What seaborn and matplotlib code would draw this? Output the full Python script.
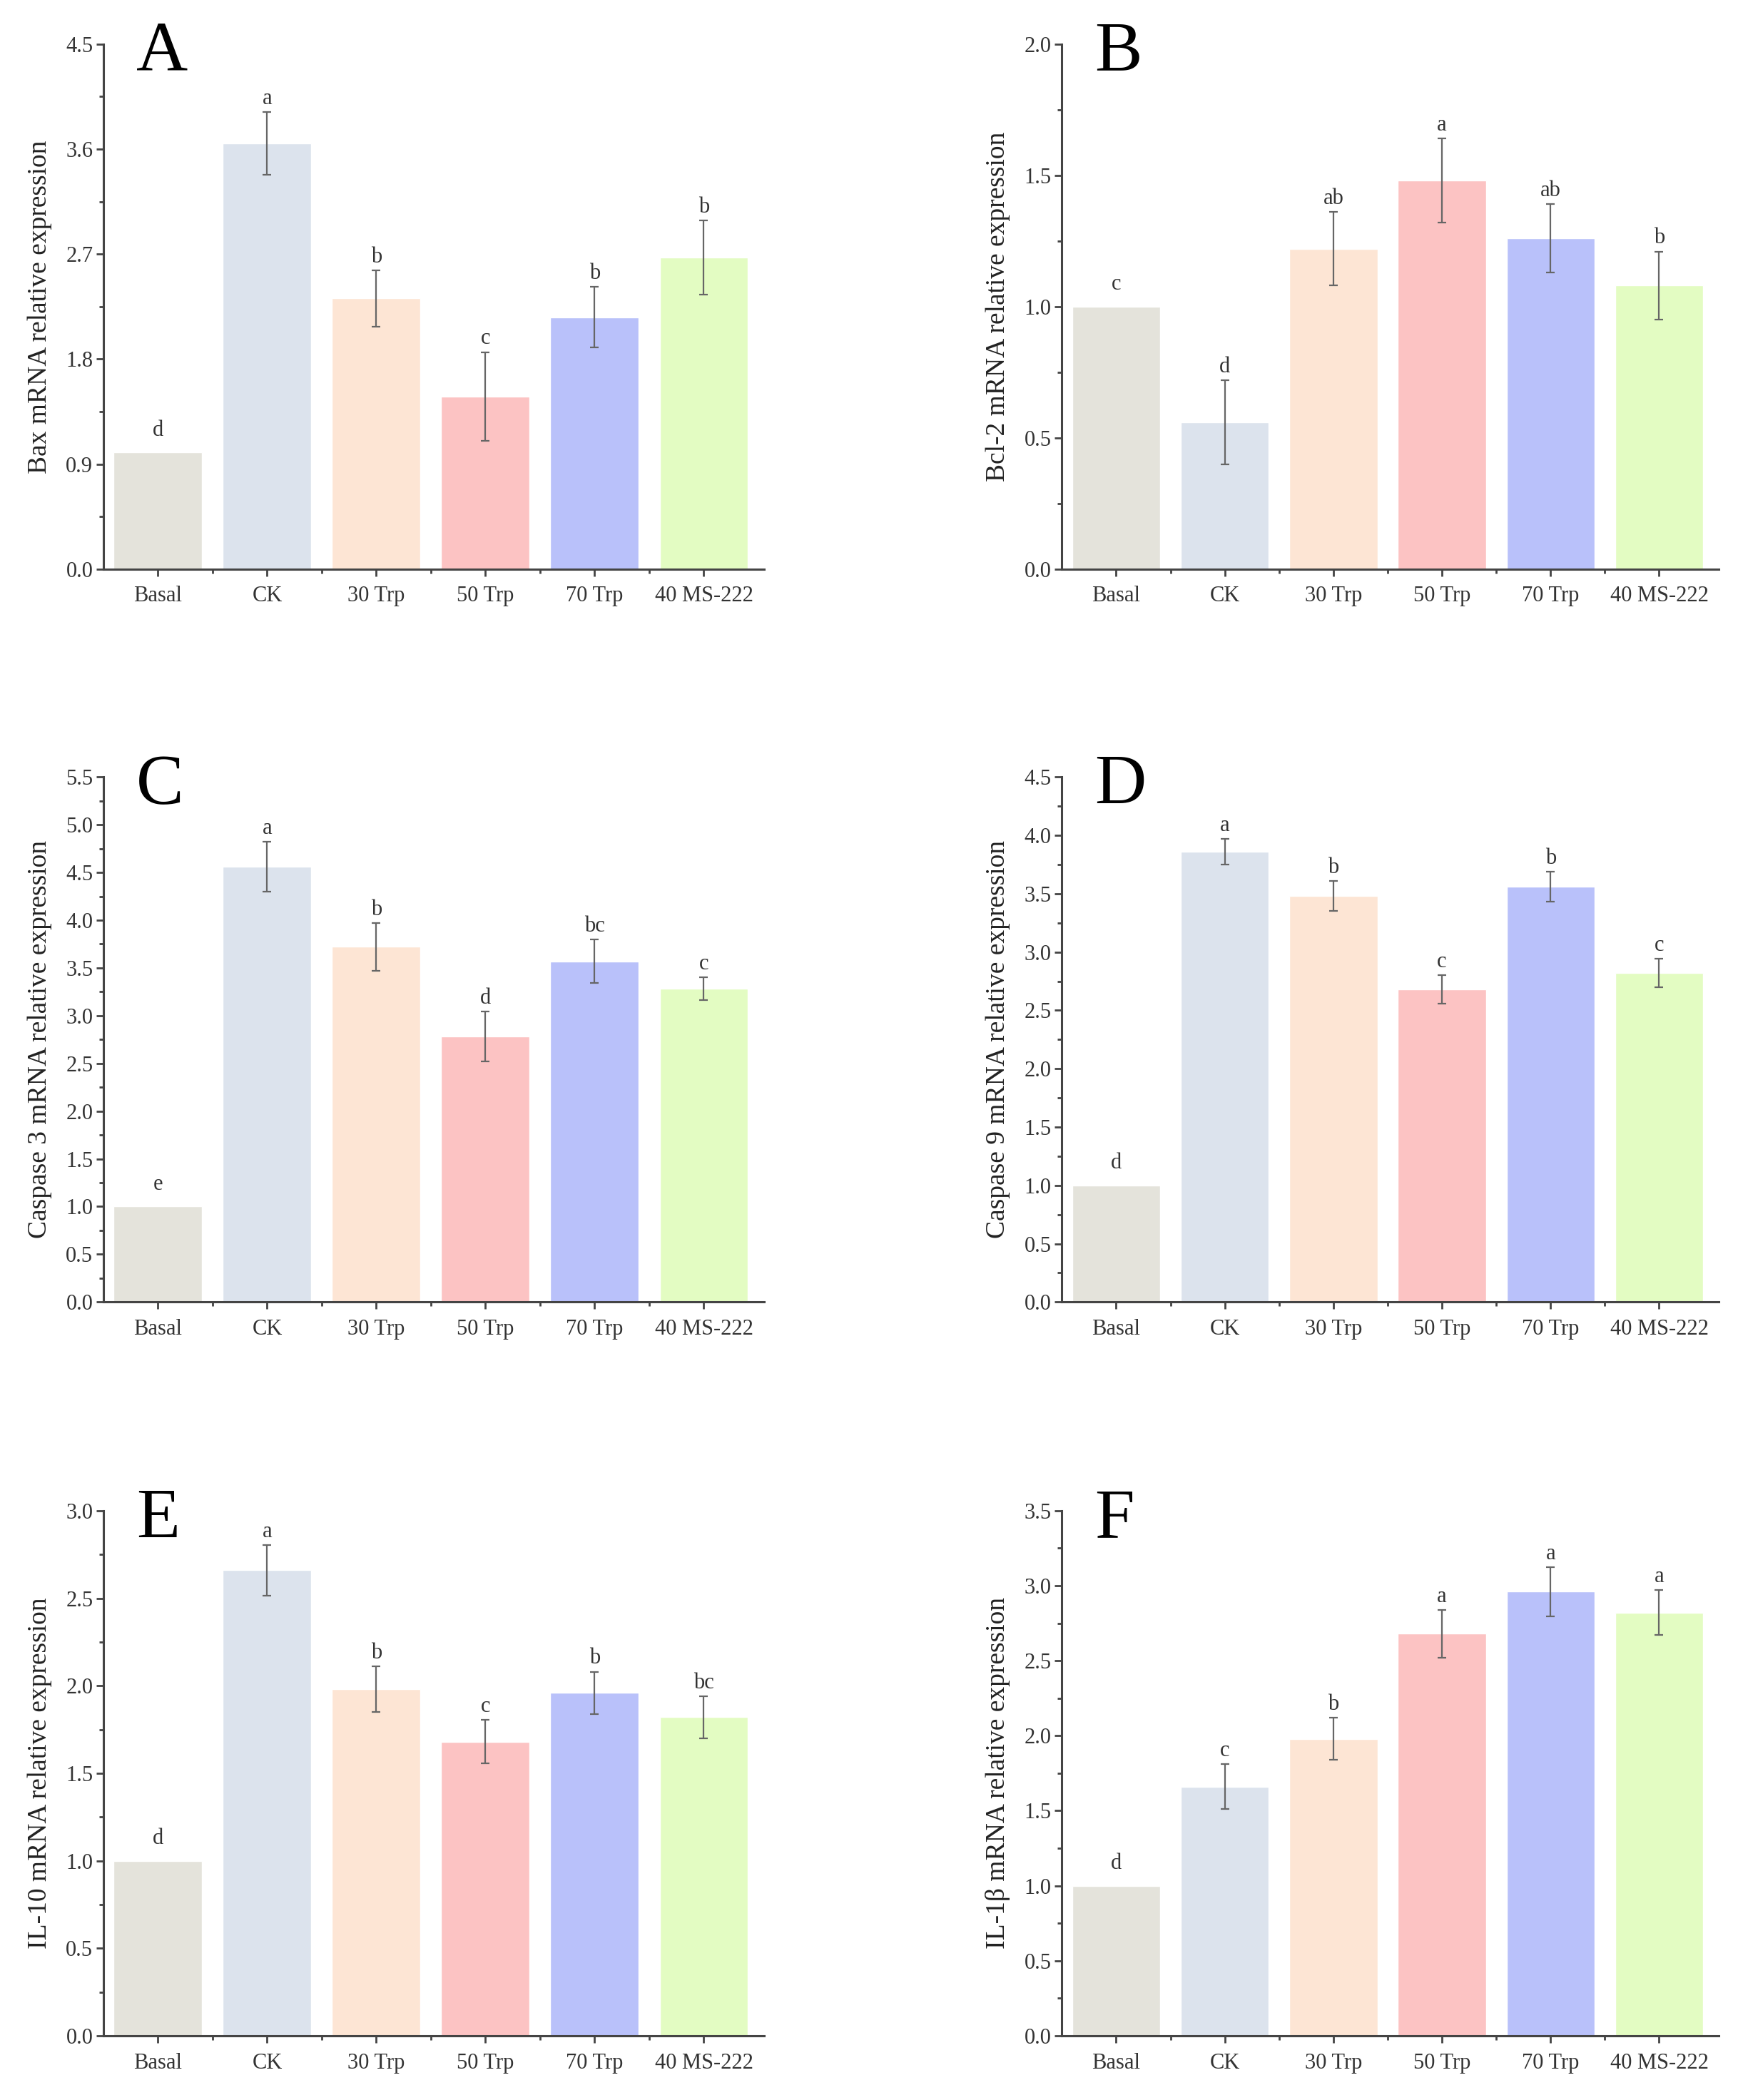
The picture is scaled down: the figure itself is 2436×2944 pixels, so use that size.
import numpy as np
import matplotlib
matplotlib.use("Agg")
import matplotlib.pyplot as plt
from matplotlib.ticker import MultipleLocator, FormatStrFormatter
import seaborn as sns

sns.set_style("ticks")
plt.rcParams["font.family"] = ["Liberation Serif", "DejaVu Serif"]

groups = ["Basal", "CK", "30 Trp", "50 Trp", "70 Trp", "40 MS-222"]
colors = ["#E4E3DB", "#DCE3ED", "#FDE5D4", "#FCC3C3", "#B9C1FA", "#E3FCC2"]

# A - Bax
bax_mean = [1.00, 3.65, 2.32, 1.48, 2.16, 2.67]
bax_err = [0.00, 0.27, 0.24, 0.38, 0.26, 0.32]
bax_sig = ["d", "a", "b", "c", "b", "b"]

# B - Bcl-2
bcl2_mean = [1.00, 0.56, 1.22, 1.48, 1.26, 1.08]
bcl2_err = [0.00, 0.16, 0.14, 0.16, 0.13, 0.13]
bcl2_sig = ["c", "d", "ab", "a", "ab", "b"]

# C - Caspase 3
casp3_mean = [1.00, 4.56, 3.72, 2.78, 3.57, 3.28]
casp3_err = [0.00, 0.26, 0.25, 0.26, 0.23, 0.12]
casp3_sig = ["e", "a", "b", "d", "bc", "c"]

# D - Caspase 9
casp9_mean = [1.00, 3.86, 3.48, 2.68, 3.56, 2.82]
casp9_err = [0.00, 0.11, 0.13, 0.12, 0.13, 0.12]
casp9_sig = ["d", "a", "b", "c", "b", "c"]

# E - IL-10
il10_mean = [1.00, 2.66, 1.98, 1.68, 1.96, 1.82]
il10_err = [0.00, 0.145, 0.13, 0.125, 0.12, 0.12]
il10_sig = ["d", "a", "b", "c", "b", "bc"]

# F - IL-1b
il1b_mean = [1.00, 1.66, 1.98, 2.68, 2.96, 2.82]
il1b_err = [0.00, 0.15, 0.14, 0.16, 0.165, 0.15]
il1b_sig = ["d", "c", "b", "a", "a", "a"]

panels = [
    ("A", "Bax mRNA relative expression", bax_mean, bax_err, bax_sig, 4.5, 0.9),
    ("B", "Bcl-2 mRNA relative expression", bcl2_mean, bcl2_err, bcl2_sig, 2.0, 0.5),
    ("C", "Caspase 3 mRNA relative expression", casp3_mean, casp3_err, casp3_sig, 5.5, 0.5),
    ("D", "Caspase 9 mRNA relative expression", casp9_mean, casp9_err, casp9_sig, 4.5, 0.5),
    ("E", "IL-10 mRNA relative expression", il10_mean, il10_err, il10_sig, 3.0, 0.5),
    ("F", "IL-1\u03b2 mRNA relative expression", il1b_mean, il1b_err, il1b_sig, 3.5, 0.5),
]

fig = plt.figure(figsize=(24.36, 29.44), dpi=100)
lefts = [0.0595, 0.611]
widths = [0.380, 0.378]
bottoms = [0.729, 0.380, 0.0306]
height = 0.250

axis_col = "#444444"
text_col = "#333333"

for i, (letter, ylabel, mean, err, sig, ymax, step) in enumerate(panels):
    row, col = divmod(i, 2)
    ax = fig.add_axes([lefts[col], bottoms[row], widths[col], height])
    sns.barplot(x=groups, y=mean, hue=groups, palette=colors, dodge=False,
                legend=False, width=0.81, saturation=1, ax=ax)

    centers = [p.get_x() + p.get_width() / 2 for p in ax.patches]
    for xc, m, e, s in zip(centers, mean, err, sig):
        if e > 0:
            ax.errorbar(xc, m, yerr=e, fmt="none", ecolor="#666666",
                        elinewidth=1.6, capsize=4, capthick=1.6)
            off = 3
        else:
            off = 12
        ax.annotate(s, (xc, m + e), xytext=(0, off), textcoords="offset points",
                    ha="center", va="bottom", fontsize=22, color=text_col)

    ax.set_xlim(-0.5, 5.55)
    ax.set_ylim(0, ymax)
    ax.yaxis.set_major_locator(MultipleLocator(step))
    ax.yaxis.set_minor_locator(MultipleLocator(step / 2))
    ax.yaxis.set_major_formatter(FormatStrFormatter("%.1f"))
    ax.set_xticks(range(len(groups)))
    ax.set_xticklabels(groups)
    ax.set_xticks(np.arange(0.5, 5.5, 1.0), minor=True)

    sns.despine(ax=ax)
    for sp in ["left", "bottom"]:
        ax.spines[sp].set_color(axis_col)
        ax.spines[sp].set_linewidth(2.2)
    ax.tick_params(axis="both", which="major", length=7, width=2, color=axis_col,
                   labelsize=22, labelcolor=text_col, direction="out")
    ax.tick_params(axis="both", which="minor", length=4, width=2, color=axis_col,
                   direction="out")
    ax.tick_params(axis="x", which="major", pad=10)

    ax.set_xlabel("")
    ax.set_ylabel(ylabel, fontsize=27, color="#222222", labelpad=14)
    ax.text(0.05, 0.95, letter, transform=ax.transAxes, fontsize=72,
            ha="left", va="baseline", color="black")

fig.savefig("out.png", dpi=100)
